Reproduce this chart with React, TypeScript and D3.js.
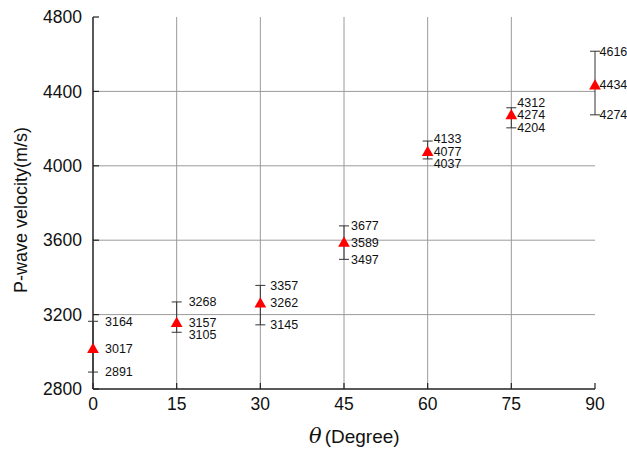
import React from "react";
import * as d3 from "d3";

const angles = [0, 15, 30, 45, 60, 75, 90];
const meanVel = [3017, 3157, 3262, 3589, 4077, 4274, 4434];
const maxVel = [3164, 3268, 3357, 3677, 4133, 4312, 4616];
const minVel = [2891, 3105, 3145, 3497, 4037, 4204, 4274];
const xTicks = [0, 15, 30, 45, 60, 75, 90];
const yTicks = [2800, 3200, 3600, 4000, 4400, 4800];

const labelGap = [12, 12, 10, 7, 6, 6, 4.5];

const W = 627;
const H = 452;
const left = 93;
const right = 595;
const top = 17;
const bottom = 389;
const font = "Arial, 'Liberation Sans', sans-serif";

export default function App() {
  const x = d3.scaleLinear().domain([0, 90]).range([left, right]);
  const y = d3.scaleLinear().domain([2800, 4800]).range([bottom, top]);
  const tri = d3.symbol().type(d3.symbolTriangle).size(60);
  const minSep = 12.5;

  return (
    <svg
      width={W}
      height={H}
      style={{ position: "absolute", left: 0, top: 0, background: "#fff" }}
      fontFamily={font}
    >
      <rect width={W} height={H} fill="#fff" />
      {yTicks
        .filter((t) => t !== 2800 && t !== 4800)
        .map((t) => (
          <line key={"gy" + t} x1={left} x2={right} y1={y(t)} y2={y(t)} stroke="#9a9a9a" strokeWidth={1} />
        ))}
      {xTicks
        .filter((t) => t !== 0 && t !== 90)
        .map((t) => (
          <line key={"gx" + t} x1={x(t)} x2={x(t)} y1={top} y2={bottom} stroke="#9a9a9a" strokeWidth={1} />
        ))}
      <line x1={left} x2={left} y1={top} y2={bottom} stroke="#222" strokeWidth={1.5} />
      <line x1={left} x2={right} y1={bottom} y2={bottom} stroke="#222" strokeWidth={1.5} />
      {yTicks.map((t) => (
        <g key={"yt" + t}>
          <line x1={left} x2={left + 6} y1={y(t)} y2={y(t)} stroke="#222" strokeWidth={1.2} />
          <text x={left - 11} y={y(t)} dy="0.35em" textAnchor="end" fontSize={17.5} fill="#111">
            {t}
          </text>
        </g>
      ))}
      {xTicks.map((t) => (
        <g key={"xt" + t}>
          <line x1={x(t)} x2={x(t)} y1={bottom} y2={bottom - 6} stroke="#222" strokeWidth={1.2} />
          <text x={x(t)} y={bottom + 15} dy="0.35em" textAnchor="middle" fontSize={17.5} fill="#111">
            {t}
          </text>
        </g>
      ))}
      {angles.map((a, i) => {
        const cx = x(a);
        const ym = y(meanVel[i]);
        const yHi = Math.min(y(maxVel[i]), ym - minSep);
        const yLo = Math.max(y(minVel[i]), ym + minSep);
        const labels: [number, number][] = [
          [maxVel[i], yHi],
          [meanVel[i], ym],
          [minVel[i], yLo],
        ];
        return (
          <g key={"eb" + a}>
            <line x1={cx} x2={cx} y1={y(maxVel[i])} y2={y(minVel[i])} stroke="#333" strokeWidth={1} />
            <line x1={cx - 5} x2={cx + 5} y1={y(maxVel[i])} y2={y(maxVel[i])} stroke="#333" strokeWidth={1} />
            <line x1={cx - 5} x2={cx + 5} y1={y(minVel[i])} y2={y(minVel[i])} stroke="#333" strokeWidth={1} />
            <path d={tri() || ""} transform={`translate(${cx},${ym + 1})`} fill="#ff0000" />
            {labels.map(([v, ly], k) => (
              <text key={k} x={cx + labelGap[i]} y={ly} dy="0.35em" fontSize={12.5} fill="#111">
                {v}
              </text>
            ))}
          </g>
        );
      })}
      <text
        transform={`translate(27, ${(top + bottom) / 2 + 7}) rotate(-90)`}
        textAnchor="middle"
        fontSize={18}
        fill="#111"
      >
        P-wave velocity(m/s)
      </text>
      <text x={309} y={443} textAnchor="start" fontSize={19} fill="#111">
        <tspan fontFamily="'DejaVu Serif', 'Liberation Serif', serif" fontStyle="italic" fontSize={21}>
          θ
        </tspan>
        <tspan dx={3}>(Degree)</tspan>
      </text>
    </svg>
  );
}
